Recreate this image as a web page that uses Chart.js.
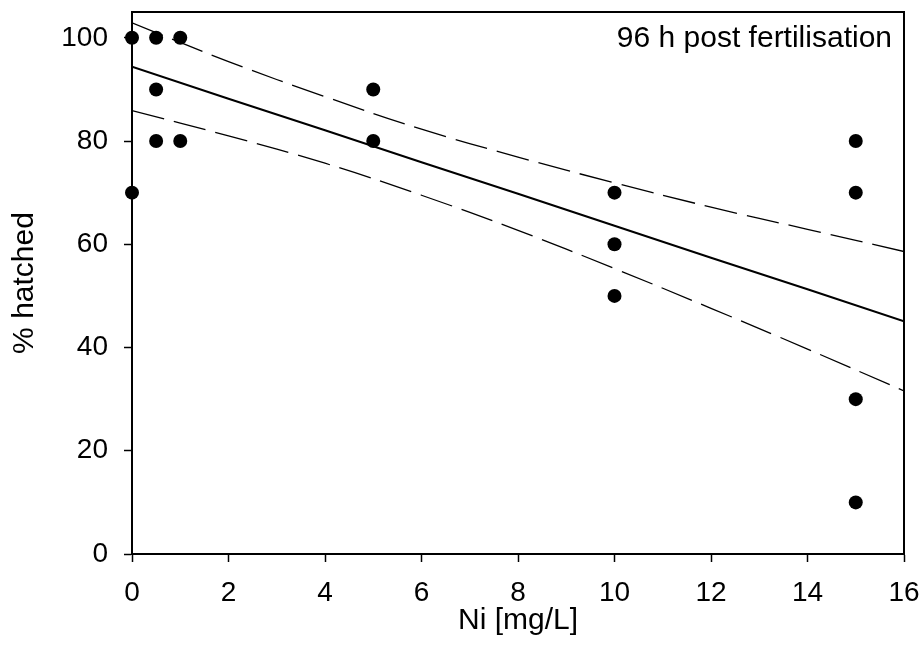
<!DOCTYPE html>
<html lang="en">
<head>
    <meta charset="UTF-8">
    <title>Hatching vs Ni</title>
    <script src="https://cdn.jsdelivr.net/npm/chart.js"></script>
    <style>
        html, body { margin: 0; padding: 0; background: #fff; }
        #wrap { width: 923px; height: 664px; }
    </style>
</head>
<body>
<div id="wrap"><canvas id="hatch-chart" width="923" height="664"></canvas></div>
<script>
// observed hatching per replicate
const niConc   = [0, 0, 0.5, 0.5, 0.5, 1, 1, 5, 5, 10, 10, 10, 15, 15, 15, 15];
const hatchPct = [100, 70, 100, 90, 80, 100, 80, 90, 80, 70, 60, 50, 80, 70, 30, 10];

// fitted line and 95% confidence band
const fitX     = [0, 2, 4, 6, 8, 10, 12, 14, 16];
const fitY     = [94.4, 88.2, 82.1, 75.9, 69.8, 63.6, 57.4, 51.3, 45.1];
const upperCI  = [102.9, 95.4, 88.6, 82.3, 76.9, 71.9, 67.2, 62.9, 58.6];
const lowerCI  = [85.9, 81.0, 75.7, 69.5, 62.7, 55.3, 47.6, 39.7, 31.6];

const xTicks = [0, 2, 4, 6, 8, 10, 12, 14, 16];
const yTicks = [0, 20, 40, 60, 80, 100];

const panelLabel = '96 h post fertilisation';
const FONT = "'Liberation Sans', Arial, sans-serif";

function pairs(xs, ys) {
    return xs.map((x, i) => ({ x: x, y: ys[i] }));
}

// frame around the plot + label in the top right corner
const framePlugin = {
    id: 'frame',
    afterDraw(chart) {
        const { ctx, chartArea: a } = chart;
        ctx.save();
        ctx.strokeStyle = '#000';
        ctx.lineWidth = 2;
        ctx.strokeRect(a.left, a.top, a.right - a.left, a.bottom - a.top);
        ctx.fillStyle = '#000';
        ctx.font = '30px ' + FONT;
        ctx.textAlign = 'right';
        ctx.textBaseline = 'alphabetic';
        ctx.fillText(panelLabel, a.right - 12, a.top + 35);
        ctx.restore();
    }
};

const lineStyle = { type: 'line', showLine: true, pointRadius: 0, borderColor: '#000', fill: false, tension: 0.4 };

new Chart(document.getElementById('hatch-chart'), {
    type: 'scatter',
    data: {
        datasets: [
            Object.assign({ data: pairs(fitX, upperCI), borderWidth: 1.3, borderDash: [33, 10] }, lineStyle),
            Object.assign({ data: pairs(fitX, lowerCI), borderWidth: 1.3, borderDash: [33, 10] }, lineStyle),
            Object.assign({ data: pairs(fitX, fitY), borderWidth: 2 }, lineStyle, { tension: 0 }),
            {
                type: 'scatter',
                data: pairs(niConc, hatchPct),
                pointRadius: 7,
                pointBackgroundColor: '#000',
                pointBorderColor: '#000',
                pointBorderWidth: 0,
                clip: false
            }
        ]
    },
    plugins: [framePlugin],
    options: {
        responsive: false,
        animation: false,
        layout: { padding: { left: 0, right: 19, top: 12, bottom: 0 } },
        plugins: { legend: { display: false }, tooltip: { enabled: false } },
        scales: {
            x: {
                type: 'linear',
                min: 0,
                max: 16,
                afterBuildTicks: s => { s.ticks = xTicks.map(v => ({ value: v })); },
                // no extra room for the end labels, keep the plot edges fixed
                afterFit: s => { s.height = 110; s.paddingLeft = 0; s.paddingRight = 0; },
                ticks: { color: '#000', font: { family: FONT, size: 28 }, padding: 14, maxRotation: 0 },
                grid: { drawOnChartArea: false, tickLength: 8, tickColor: '#000', tickWidth: 1.5 },
                border: { color: '#000', width: 2 },
                title: { display: true, text: 'Ni [mg/L]', color: '#000', font: { family: FONT, size: 30 }, padding: { top: 0, bottom: 25 } }
            },
            y: {
                type: 'linear',
                min: 0,
                max: 105,
                afterBuildTicks: s => { s.ticks = yTicks.map(v => ({ value: v })); },
                afterFit: s => { s.width = 132; s.paddingTop = 0; s.paddingBottom = 0; },
                ticks: { color: '#000', font: { family: FONT, size: 28 }, padding: 16 },
                grid: { drawOnChartArea: false, tickLength: 8, tickColor: '#000', tickWidth: 1.5 },
                border: { color: '#000', width: 2 },
                title: { display: true, text: '% hatched', color: '#000', font: { family: FONT, size: 30 }, padding: { top: 7, bottom: 0 } }
            }
        }
    }
});
</script>
</body>
</html>
